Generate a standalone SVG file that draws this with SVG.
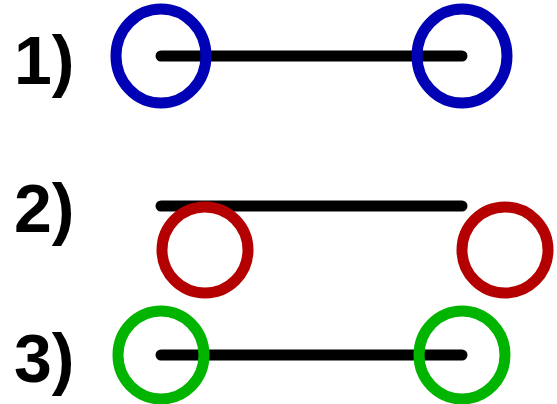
<svg xmlns="http://www.w3.org/2000/svg" width="557" height="404" viewBox="0 0 557 404">
<style>
.lbl{font-family:"Liberation Sans",Arial,sans-serif;font-weight:bold;font-size:68px;fill:#000}
.bar{stroke:#000;stroke-width:11;stroke-linecap:round;fill:none}
.c{fill:none;stroke-width:11}
.blue{stroke:#0000b4}
.red{stroke:#b40000}
.green{stroke:#00b400}
</style>
<rect width="557" height="404" fill="#fff"/>
<text class="lbl" x="14" y="84">1)</text>
<text class="lbl" x="14" y="232">2)</text>
<text class="lbl" x="14" y="382">3)</text>
<g id="connectors">
<line class="bar" x1="161" y1="56" x2="462" y2="56"/>
<line class="bar" x1="161" y1="206" x2="462" y2="206"/>
<line class="bar" x1="161" y1="355" x2="462" y2="355"/>
</g>
<g id="n1a"><ellipse class="c blue" cx="161" cy="56" rx="45" ry="47"/></g>
<g id="n1b"><ellipse class="c blue" cx="462" cy="56" rx="45" ry="47"/></g>
<g id="n2a"><ellipse class="c red" cx="205" cy="250" rx="43" ry="43"/></g>
<g id="n2b"><ellipse class="c red" cx="505" cy="250" rx="43" ry="43"/></g>
<g id="n3a"><ellipse class="c green" cx="161" cy="355" rx="43" ry="44"/></g>
<g id="n3b"><ellipse class="c green" cx="462" cy="355" rx="43" ry="44"/></g>
</svg>
